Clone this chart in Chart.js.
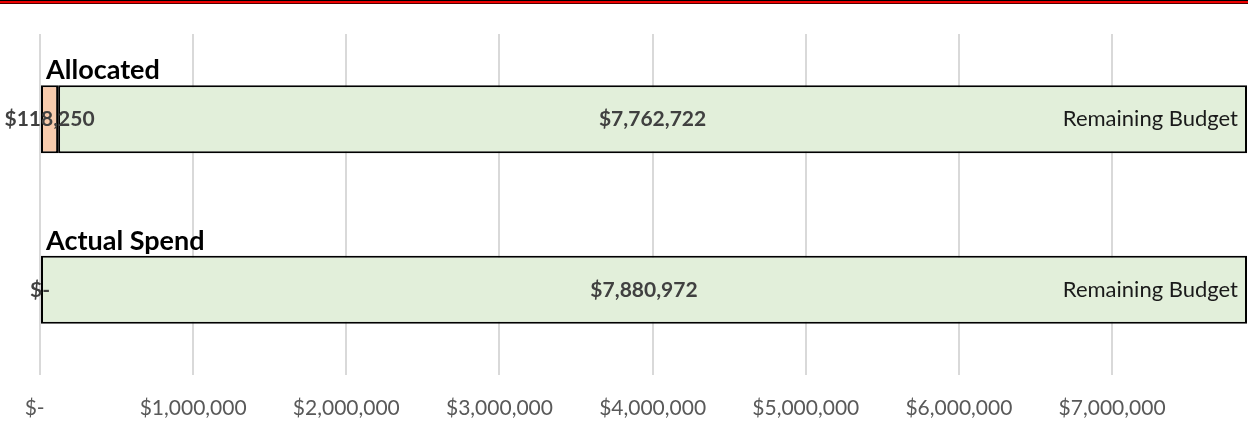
<!DOCTYPE html>
<html>
<head>
<meta charset="utf-8">
<title>Budget</title>
<script src="https://cdn.jsdelivr.net/npm/chart.js@4.4.1/dist/chart.umd.min.js"></script>
<style>
  body { margin: 0; background: #fff; }
  #wrap { position: relative; width: 1248px; height: 422px; }
  #budget { display: block; }
  /* dark red rule across the top of the slide */
  #topline { position: absolute; left: 0; top: 0; width: 1248px; height: 2px;
    background: #ee0000; border-top: 1px solid #000; border-bottom: 1px solid #500000; }
</style>
</head>
<body>
<div id="wrap">
  <canvas id="budget" width="1248" height="422"></canvas>
  <div id="topline"></div>
</div>
<script>
const categories = ['Allocated', 'Actual Spend'];
const seriesNames = ['Spent', 'Remaining Budget'];
const spentValues = [118250, 0];
const remainingValues = [7762722, 7880972];
const totalBudget = 7880972;
const tickValues = [0, 1000000, 2000000, 3000000, 4000000, 5000000, 6000000, 7000000];

const money = v => v === 0 ? '$-' : '$' + v.toLocaleString('en-US');

// value labels, series name at the right end, category name above each bar
const barLabels = {
  id: 'barLabels',
  afterDatasetsDraw(chart) {
    const ctx = chart.ctx;
    ctx.save();
    chart.data.datasets.forEach((ds, i) => {
      const meta = chart.getDatasetMeta(i);
      meta.data.forEach((bar, j) => {
        const left = Math.min(bar.x, bar.base);
        const right = Math.max(bar.x, bar.base);
        ctx.font = 'bold 21px Lato';
        ctx.fillStyle = '#404040';
        ctx.textAlign = 'center';
        ctx.textBaseline = 'middle';
        ctx.fillText(money(ds.data[j]), (left + right) / 2, bar.y);
        if (i === 1) {
          ctx.font = '22px Lato';
          ctx.fillStyle = '#1a1a1a';
          ctx.textAlign = 'right';
          ctx.fillText(ds.label, right - 9, bar.y);

          ctx.font = 'bold 27px Lato';
          ctx.fillStyle = '#000';
          ctx.textAlign = 'left';
          ctx.textBaseline = 'alphabetic';
          ctx.fillText(categories[j], chart.chartArea.left + 6, bar.y - bar.height / 2 - 6);
        }
      });
    });
    ctx.restore();
  }
};

new Chart(document.getElementById('budget'), {
  type: 'bar',
  data: {
    labels: categories,
    datasets: [
      {
        label: seriesNames[0],
        data: spentValues,
        backgroundColor: '#f8cbad',
        borderColor: '#000',
        borderWidth: 2,
        borderSkipped: false
      },
      {
        label: seriesNames[1],
        data: remainingValues,
        backgroundColor: '#e2efda',
        borderColor: '#000',
        borderWidth: 2,
        borderSkipped: false
      }
    ]
  },
  options: {
    indexAxis: 'y',
    responsive: false,
    animation: false,
    categoryPercentage: 0.8,
    barPercentage: 0.5,
    layout: { padding: { left: 40, right: 1, top: 34, bottom: 0 } },
    plugins: {
      legend: { display: false },
      tooltip: { enabled: false }
    },
    scales: {
      y: { stacked: true, display: false },
      x: {
        type: 'linear',
        stacked: true,
        min: 0,
        max: totalBudget,
        border: { display: false },
        grid: { color: '#d9d9d9', lineWidth: 2, drawTicks: false },
        ticks: {
          autoSkip: false,
          maxRotation: 0,
          padding: 21,
          color: '#595959',
          font: { family: 'Lato', size: 21 },
          callback: v => v === 0 ? '$-  ' : money(v)
        },
        afterBuildTicks(scale) { scale.ticks = tickValues.map(v => ({ value: v })); },
        afterFit(scale) { scale.height = 47; }
      }
    }
  },
  plugins: [barLabels]
});
</script>
</body>
</html>
